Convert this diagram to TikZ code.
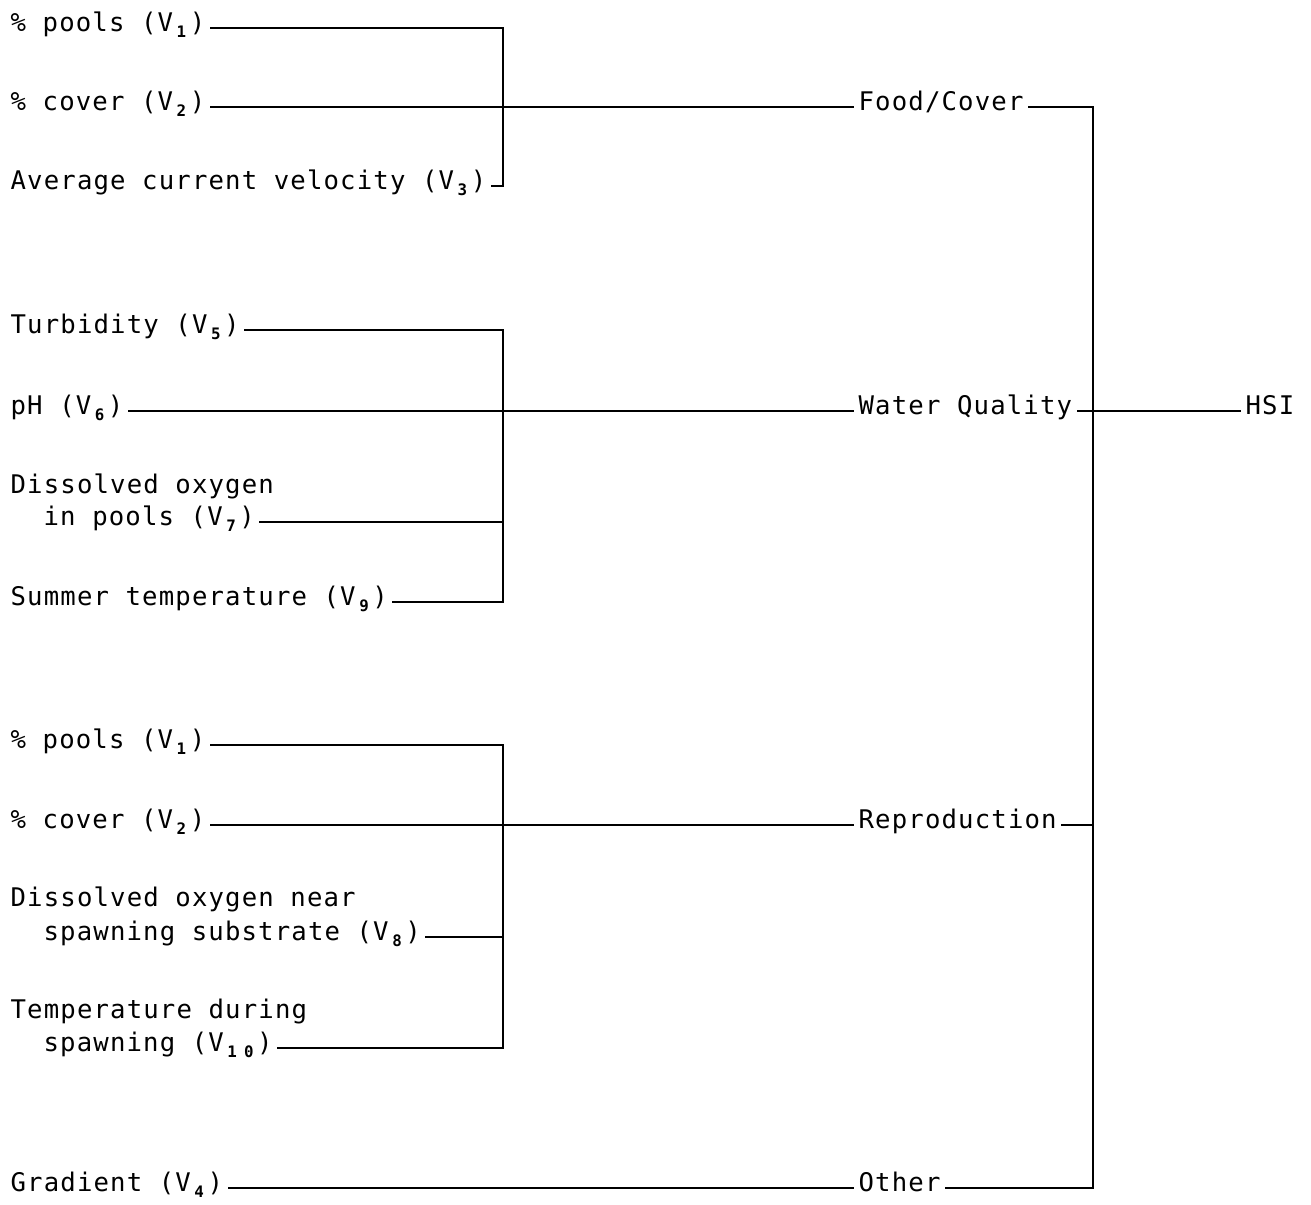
\documentclass[tikz,border=0pt]{standalone}
\usepackage{fontspec}
\newfontfamily\typeface[LetterSpace=4.5]{DejaVu Sans Mono}
\usetikzlibrary{positioning}

% one subscript digit, kept in a full character cell
\newcommand{\sub}[1]{\makebox[0.65em][c]{\raisebox{-0.45ex}{\fontsize{9}{9}\selectfont\bfseries #1}}}

\begin{document}
\begin{tikzpicture}[
    x=0.02cm, y=-0.02cm,
    txt/.style={inner xsep=3pt, inner ysep=0pt, anchor=west, text height=0.7em, text depth=0.3em, font=\typeface\fontsize{14.6}{17}\selectfont},
    wire/.style={line width=1.2pt, line cap=rect},
]
\useasboundingbox (0,0) rectangle (1311,1204);

% ====== Food/Cover inputs ======
\node[txt] (pools1) at (5,28) {\% pools (V\sub1)};
\node[txt] (cover1) at (5,107) {\% cover (V\sub2)};
\node[txt] (velocity) at (5,186) {Average current velocity (V\sub3)};
\coordinate (bus1) at (503,0);

% ====== Water Quality inputs ======
\node[txt] (turbidity) at (5,330) {Turbidity (V\sub5)};
\node[txt] (ph) at (5,411) {pH (V\sub6)};
\node[txt] (doPoolsTop) at (5,490) {Dissolved oxygen};
\node[txt] (doPools) at (38,522) {in pools (V\sub7)};
\node[txt] (summerT) at (5,602) {Summer temperature (V\sub9)};
\coordinate (bus2) at (503,0);

% ====== Reproduction inputs ======
\node[txt] (pools2) at (5,745) {\% pools (V\sub1)};
\node[txt] (cover2) at (5,825) {\% cover (V\sub2)};
\node[txt] (doSpawnTop) at (5,903) {Dissolved oxygen near};
\node[txt] (doSpawn) at (38,937) {spawning substrate (V\sub8)};
\node[txt] (spawnTTop) at (5,1015) {Temperature during};
\node[txt] (spawnT) at (38,1048) {spawning (V\sub1\sub0)};
\coordinate (bus3) at (503,0);

% ====== Other input ======
\node[txt] (gradient) at (5,1188) {Gradient (V\sub4)};

% ====== Components ======
\node[txt] (foodcover) at (853,107) {Food/Cover};
\node[txt] (waterq) at (853,411) {Water Quality};
\node[txt] (repro) at (853,825) {Reproduction};
\node[txt] (other) at (853,1188) {Other};
\coordinate (bus4) at (1093,0);

% ====== HSI ======
\node[txt] (hsi) at (1240,411) {HSI};

% ====== Connectors ======
\draw[wire] (pools1) -- (pools1 -| bus1) -- (velocity -| bus1);
\draw[wire] (velocity) -- (velocity -| bus1);
\draw[wire] (cover1) -- (foodcover);

\draw[wire] (turbidity) -- (turbidity -| bus2) -- (summerT -| bus2);
\draw[wire] (doPools) -- (doPools -| bus2);
\draw[wire] (summerT) -- (summerT -| bus2);
\draw[wire] (ph) -- (waterq);

\draw[wire] (pools2) -- (pools2 -| bus3) -- (spawnT -| bus3);
\draw[wire] (doSpawn) -- (doSpawn -| bus3);
\draw[wire] (spawnT) -- (spawnT -| bus3);
\draw[wire] (cover2) -- (repro);

\draw[wire] (gradient) -- (other);

\draw[wire] (foodcover) -- (foodcover -| bus4) -- (other -| bus4);
\draw[wire] (waterq) -- (waterq -| bus4);
\draw[wire] (repro) -- (repro -| bus4);
\draw[wire] (other) -- (other -| bus4);
\draw[wire] (waterq -| bus4) -- (hsi);

\end{tikzpicture}
\end{document}
